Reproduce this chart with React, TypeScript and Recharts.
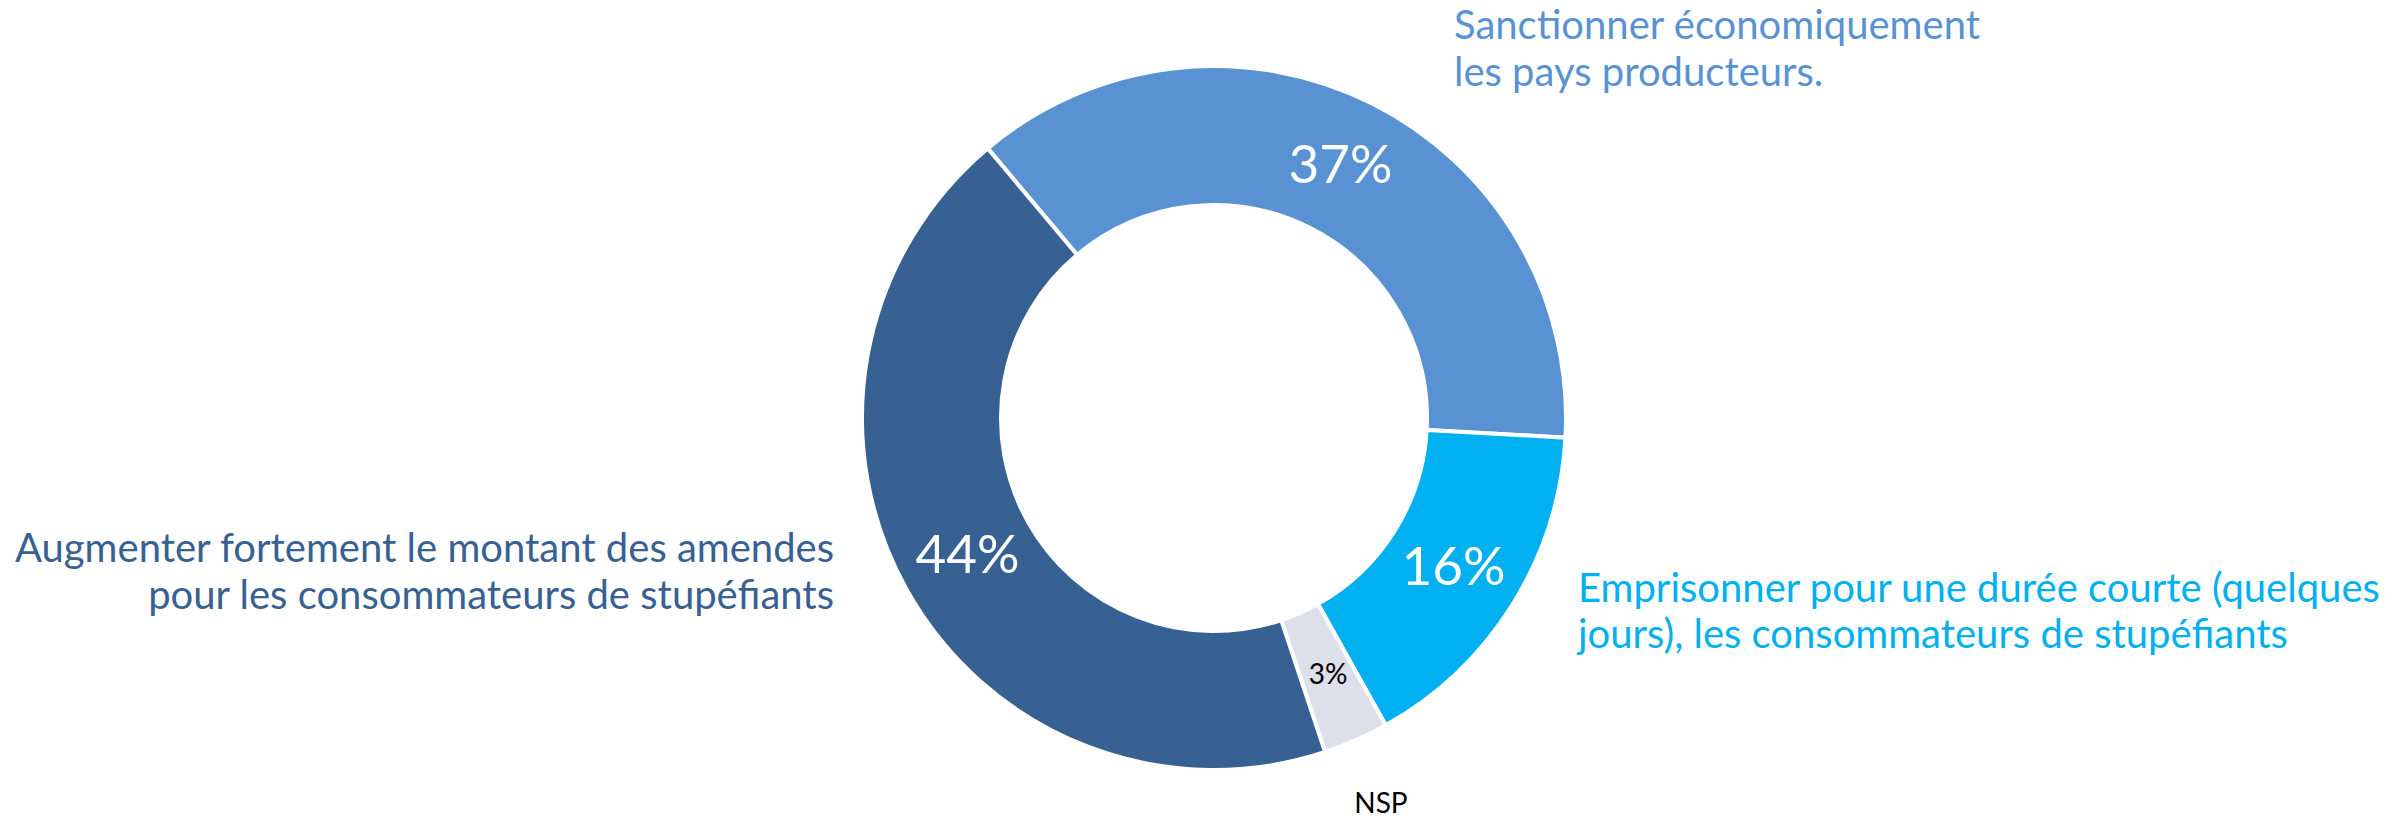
import React from "react";
import { PieChart, Pie, Cell } from "recharts";

const categories = [
  "Sanctionner économiquement les pays producteurs.",
  "Emprisonner pour une durée courte (quelques jours), les consommateurs de stupéfiants",
  "NSP",
  "Augmenter fortement le montant des amendes pour les consommateurs de stupéfiants",
];
const values = [37, 16, 3, 44];
const valueLabels = ["37%", "16%", "3%", "44%"];
const nameLines = [
  ["Sanctionner économiquement", "les pays producteurs."],
  ["Emprisonner pour une durée courte (quelques", "jours), les consommateurs de stupéfiants"],
  ["NSP"],
  ["Augmenter fortement le montant des amendes", "pour les consommateurs de stupéfiants"],
];
const colors = ["#5892D3", "#00B0F0", "#DDDFEA", "#376192"];
const valueColors = ["#FFFFFF", "#FFFFFF", "#000000", "#FFFFFF"];
const valueSizes = [53, 53, 28, 53];

// layout for outside name labels, relative to the pie centre
const nameLayout = [
  { dx: 240, dy: -379, anchor: "start", size: 40, lh: 47 },
  { dx: 364, dy: 184, anchor: "start", size: 40, lh: 46 },
  { dx: 167, dy: 395, anchor: "middle", size: 28, lh: 30 },
  { dx: -380, dy: 144, anchor: "end", size: 40, lh: 47 },
];

const data = categories.map((c, i) => ({ name: c, value: values[i] }));
const RAD = Math.PI / 180;
const FONT = "Lato, 'Open Sans', sans-serif";

const renderLabel = (props: any) => {
  const { cx, cy, midAngle, innerRadius, outerRadius, index } = props;
  const r = (innerRadius + outerRadius) / 2;
  const x = cx + r * Math.cos(-midAngle * RAD);
  const y = cy + r * Math.sin(-midAngle * RAD) - 3;
  const L = nameLayout[index];
  return (
    <g>
      <text
        x={x}
        y={y}
        fill={valueColors[index]}
        fontSize={valueSizes[index]}
        fontFamily={FONT}
        textAnchor="middle"
        dominantBaseline="central"
      >
        {valueLabels[index]}
      </text>
      <text
        x={cx + L.dx}
        y={cy + L.dy}
        fill={index === 2 ? "#000000" : colors[index]}
        fontSize={L.size}
        fontFamily={FONT}
        textAnchor={L.anchor}
      >
        {nameLines[index].map((ln, k) => (
          <tspan key={k} x={cx + L.dx} dy={k === 0 ? 0 : L.lh}>
            {ln}
          </tspan>
        ))}
      </text>
    </g>
  );
};

export default function App() {
  return (
    <div style={{ position: "absolute", left: 0, top: 0, width: 2407, height: 818, background: "#fff" }}>
      <PieChart width={2407} height={818}>
        <Pie
          data={data}
          dataKey="value"
          nameKey="name"
          cx={1209}
          cy={413}
          innerRadius={213}
          outerRadius={352}
          startAngle={130}
          endAngle={-230}
          stroke="#FFFFFF"
          strokeWidth={4}
          label={renderLabel}
          labelLine={false}
          isAnimationActive={false}
        >
          {data.map((d, i) => (
            <Cell key={i} fill={colors[i]} />
          ))}
        </Pie>
      </PieChart>
    </div>
  );
}
